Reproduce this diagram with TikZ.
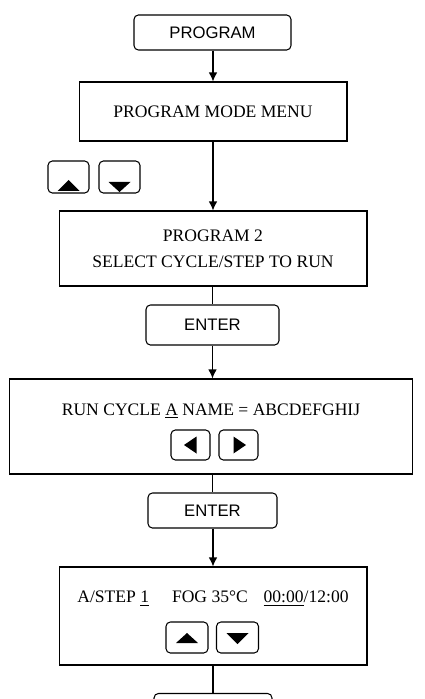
\documentclass[tikz,border=0pt]{standalone}
\usepackage{fontspec}
\setmainfont{Liberation Serif}
\setsansfont{Liberation Sans}
\usetikzlibrary{arrows.meta}
\begin{document}
\begin{tikzpicture}[x=0.02cm, y=0.02cm, line width=0.6pt,
        >={Latex[length=1.8mm, width=1.7mm]},
        screen/.style={draw, font=\fontsize{10}{14.8}\selectfont, align=center},
        key/.style={draw, rounded corners=2.5pt, font=\sffamily\fontsize{9.5}{11}\selectfont},
        btn/.style={draw, rounded corners=2.5pt}]
        \useasboundingbox (0, 0) rectangle (424, -699);
        \clip (0, 0) rectangle (424, -699);
        % keys and screens
        \node[key, minimum width=3.14cm, minimum height=0.70cm] (prog) at (212.5, -32.5) {PROGRAM};
        \node[screen, minimum width=5.36cm, minimum height=1.18cm] (menu) at (213, -111.5) {PROGRAM MODE MENU};
        \node[btn, minimum width=0.82cm, minimum height=0.64cm] (up1) at (68.5, -177) {};
        \node[btn, minimum width=0.82cm, minimum height=0.64cm] (down1) at (119.5, -177) {};
        \node[screen, minimum width=6.16cm, minimum height=1.50cm] (select) at (213, -248.5) {PROGRAM 2\\SELECT CYCLE/STEP TO RUN};
        \node[key, minimum width=2.66cm, minimum height=0.80cm] (enter1) at (212.5, -325) {ENTER};
        \node[screen, minimum width=8.08cm, minimum height=1.90cm] (run) at (211, -426.5) {};
        \node[font=\fontsize{10}{12}\selectfont] (runtext) at (211, -411) {RUN CYCLE \underline{A} NAME = ABCDEFGHIJ};
        \node[btn, minimum width=0.78cm, minimum height=0.60cm] (left) at (190.5, -445) {};
        \node[btn, minimum width=0.78cm, minimum height=0.60cm] (right) at (238.5, -445) {};
        \node[key, minimum width=2.58cm, minimum height=0.70cm] (enter2) at (212.5, -510.5) {ENTER};
        \node[screen, minimum width=6.16cm, minimum height=1.96cm] (steps) at (213, -616) {};
        \node[font=\fontsize{10}{12}\selectfont] (steptext) at (213, -599) {A/STEP \underline{1}\hspace{13pt}FOG 35°C\hspace{9pt}\underline{00:00}/12:00};
        \node[btn, minimum width=0.84cm, minimum height=0.62cm] (up2) at (187, -637.5) {};
        \node[btn, minimum width=0.84cm, minimum height=0.62cm] (down2) at (237.5, -637.5) {};
        \node[key, minimum width=2.36cm, minimum height=0.70cm] (next) at (213, -711) {};
        % arrows on the buttons
        \fill[shift={(up1)}] (-11, -14) -- (11, -14) -- (0, -3) -- cycle;
        \fill[shift={(down1)}] (-11, -5) -- (11, -5) -- (0, -15) -- cycle;
        \fill[shift={(left)}] (6, 8.5) -- (6, -8.5) -- (-6.5, 0) -- cycle;
        \fill[shift={(right)}] (-5, 8.5) -- (-5, -8.5) -- (7.5, 0) -- cycle;
        \fill[shift={(up2)}] (-11, -5.5) -- (11, -5.5) -- (0, 4.5) -- cycle;
        \fill[shift={(down2)}] (-11, 4.5) -- (11, 4.5) -- (0, -6.5) -- cycle;
        % flow
        \draw[->] (prog.south -| menu) -- (menu);
        \draw[->] (menu) -- (select);
        \draw (select.south -| enter1) -- (enter1);
        \draw[->] (enter1) -- (enter1 |- run.north);
        \draw (run.south -| enter2) -- (enter2);
        \draw[->] (enter2.south -| steps) -- (steps);
        \draw (steps) -- (next);
    \end{tikzpicture}
\end{document}
